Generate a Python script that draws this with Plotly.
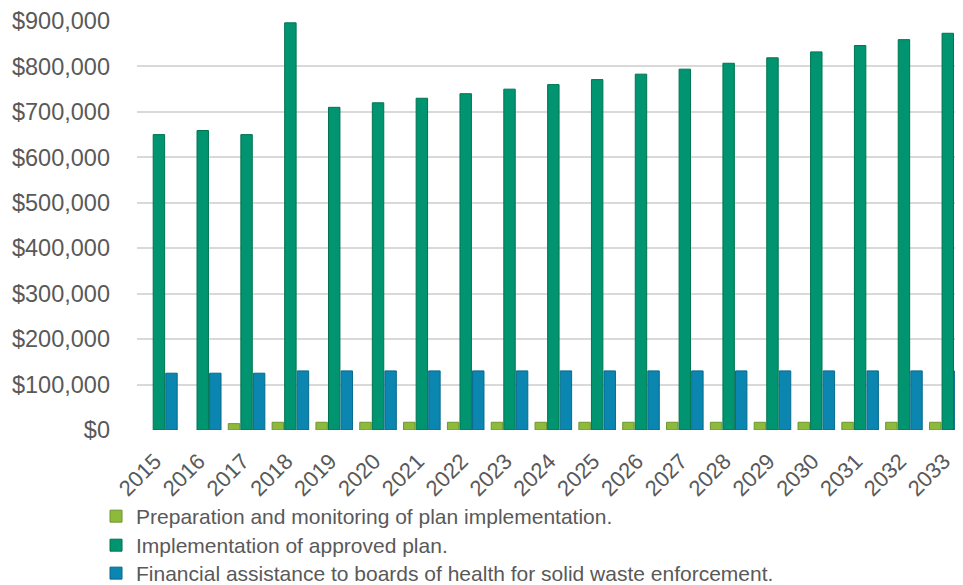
import plotly.graph_objects as go

years = [str(y) for y in range(2015, 2034)]
prep = [None, None, 14000, 17000, 17000, 17000, 17000, 17000, 17000, 17000,
        17000, 17000, 17000, 17000, 17000, 17000, 17000, 17000, 17000]
impl = [650000, 659000, 650000, 896000, 710000, 720000, 730000, 740000, 750000, 760000,
        771000, 783000, 794000, 807000, 819000, 832000, 846000, 859000, 873000]
assist = [125000, 125000, 125000, 130000, 130000, 130000, 130000, 130000, 130000, 130000,
          130000, 130000, 130000, 130000, 130000, 130000, 130000, 130000, 130000]
names = ["Preparation and monitoring of plan implementation.",
         "Implementation of approved plan.",
         "Financial assistance to boards of health for solid waste enforcement."]
fills = ["#8DBA3A", "#009471", "#0A86B0"]
edges = ["#6E9630", "#00744F", "#086A8C"]
legend_ids = ["legend", "legend2", "legend3"]
legend_tops = [0.1658, 0.1162, 0.0684]

fig = go.Figure()
for vals, nm, fc, ec, lg in zip([prep, impl, assist], names, fills, edges, legend_ids):
    fig.add_trace(go.Bar(x=years, y=vals, name=nm, legend=lg,
                         marker=dict(color=fc, line=dict(color=ec, width=1))))

legend_common = dict(orientation="v", xref="container", yref="container",
                     x=0.0914, xanchor="left", yanchor="top",
                     font=dict(size=21, color="#595959"),
                     itemwidth=30, bgcolor="rgba(0,0,0,0)")

fig.update_layout(
    width=963, height=585,
    margin=dict(l=129, r=0, t=13, b=163, autoexpand=False),
    paper_bgcolor="white", plot_bgcolor="white",
    barmode="group", bargap=0.14, bargroupgap=0.09,
    font=dict(family="Liberation Sans, Arial, sans-serif", color="#595959", size=22),
    yaxis=dict(range=[0, 900000], tickvals=list(range(0, 900001, 100000)),
               tickformat="$,.0f", gridcolor="#D9D9D9", gridwidth=1.5,
               zeroline=False, showline=False, ticks="", ticklabelstandoff=26,
               tickfont=dict(size=23.5)),
    xaxis=dict(type="category", range=[-0.5, 18.53], tickangle=-45,
               showgrid=False, zeroline=False, showline=False, ticks="",
               ticklabelstandoff=13, ticklabelshift=-4, tickfont=dict(size=22)),
    legend=dict(legend_common, y=legend_tops[0]),
    legend2=dict(legend_common, y=legend_tops[1]),
    legend3=dict(legend_common, y=legend_tops[2]),
    showlegend=True,
)

fig.write_html("out.html")
